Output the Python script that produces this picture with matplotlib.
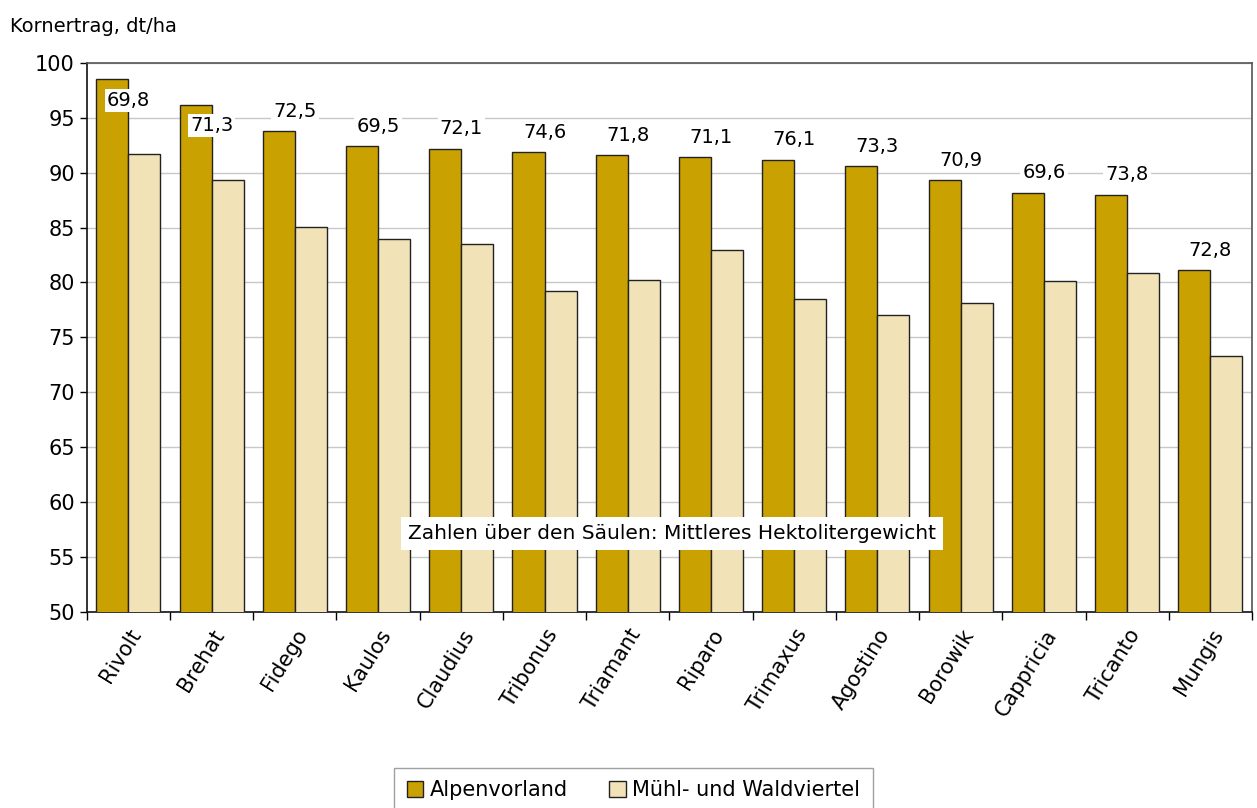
"""Kornertrag der Sorten: Alpenvorland vs. Mühl- und Waldviertel."""

import matplotlib

matplotlib.use("Agg")
import matplotlib.pyplot as plt
import numpy as np

sorten = ["Rivolt", "Brehat", "Fidego", "Kaulos", "Claudius", "Tribonus", "Triamant",
          "Riparo", "Trimaxus", "Agostino", "Borowik", "Cappricia", "Tricanto", "Mungis"]
alpenvorland = [98.5, 96.2, 93.8, 92.4, 92.2, 91.9, 91.6, 91.4, 91.2, 90.6, 89.3, 88.2, 88.0, 81.1]
muehl_wald = [91.7, 89.3, 85.1, 84.0, 83.5, 79.2, 80.2, 83.0, 78.5, 77.0, 78.1, 80.1, 80.9, 73.3]
hektoliter = ["69,8", "71,3", "72,5", "69,5", "72,1", "74,6", "71,8",
              "71,1", "76,1", "73,3", "70,9", "69,6", "73,8", "72,8"]

DARK = "#C9A100"
LIGHT = "#F1E2B8"

plt.rcParams["font.family"] = ["DejaVu Sans"]

fig = plt.figure(figsize=(12.57, 8.08), dpi=100)
ax = fig.add_axes([0.069, 0.243, 0.927, 0.679])

x = np.arange(len(sorten))
w = 0.385
ax.bar(x - w / 2, alpenvorland, w, color=DARK, edgecolor="#222222", lw=1,
       label="Alpenvorland", zorder=3)
ax.bar(x + w / 2, muehl_wald, w, color=LIGHT, edgecolor="#222222", lw=1,
       label="Mühl- und Waldviertel", zorder=3)

for xi, v, txt in zip(x, alpenvorland, hektoliter):
    # Excel pushes labels inside when they would hit the top of the plot
    y = v - 1.9 if v > 95 else v + 1.8
    ax.text(xi, y, txt, ha="center", va="center", fontsize=14, zorder=5,
            bbox=dict(facecolor="white", edgecolor="none", pad=1.5))

ax.text(3.36, 57.1, "Zahlen über den Säulen: Mittleres Hektolitergewicht",
        ha="left", va="center", fontsize=14.5, zorder=6,
        bbox=dict(facecolor="white", edgecolor="none", pad=5))

ax.set_ylim(50, 100)
ax.set_xlim(-0.5, len(sorten) - 0.5)
ax.set_yticks(np.arange(50, 101, 5))
ax.yaxis.grid(True, color="#C8C8C8", lw=1, zorder=0)
ax.tick_params(axis="y", labelsize=15, length=5, direction="out", width=1)
ax.set_xticks(x)
ax.set_xticklabels(sorten, rotation=58, ha="right", rotation_mode="anchor", fontsize=15)
ax.tick_params(axis="x", length=0, pad=10)
ax.set_xticks(np.arange(-0.5, len(sorten)), minor=True)
ax.tick_params(axis="x", which="minor", length=6, width=1, direction="out")

for s in ["left", "bottom"]:
    ax.spines[s].set_color("#111111")
    ax.spines[s].set_linewidth(1.2)
for s in ["top", "right"]:
    ax.spines[s].set_color("#555555")
    ax.spines[s].set_linewidth(1.2)

fig.text(0.008, 0.967, "Kornertrag, dt/ha", fontsize=14, ha="left", va="center")

leg = fig.legend(loc="lower center", bbox_to_anchor=(0.504, -0.006), ncol=2, fontsize=15,
                 frameon=True, fancybox=False, edgecolor="#888888", handlelength=0.8,
                 handleheight=0.8, handletextpad=0.3, columnspacing=2.0,
                 borderpad=0.6, borderaxespad=0.0)
leg.get_frame().set_linewidth(1)

fig.savefig("out.png", dpi=100)
